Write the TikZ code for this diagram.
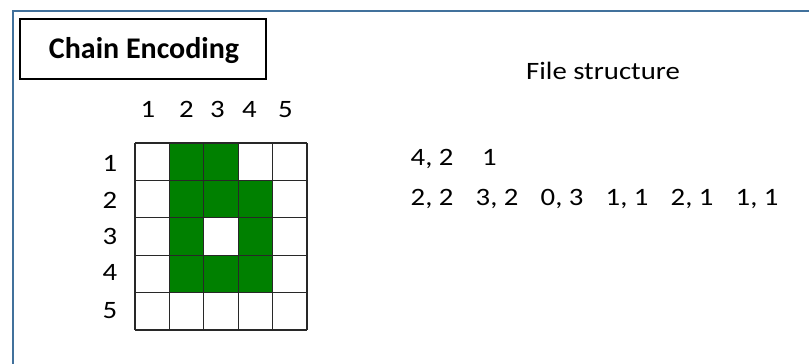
\documentclass[tikz,border=0pt]{standalone}
\usepackage{fontspec}
\setmainfont{Carlito}[FakeStretch=1.15]
\newfontfamily\titlefont{Carlito}
\definecolor{frameblue}{RGB}{65,113,156}
\definecolor{cellgreen}{RGB}{0,128,0}
\definecolor{gridline}{RGB}{40,40,40}
\tikzset{
  frameline/.style={draw=frameblue, line width=2.6pt},
  titlebox/.style={draw=black, line width=1.3pt},
  gridstyle/.style={draw=gridline, line width=1.3pt},
  lbl/.style={inner sep=0pt, anchor=base, font=\fontsize{25}{27}\selectfont},
  code/.style={inner sep=0pt, anchor=base west, font=\fontsize{25}{27}\selectfont},
}
\begin{document}
\begin{tikzpicture}[x=1pt,y=-1pt]
\useasboundingbox (0,0) rectangle (809,364);
\fill[white] (0,0) rectangle (809,364);
% outer frame
\draw[frameline] (13,364) -- (13,11) -- (809,11);
% title
\draw[titlebox] (20,19) rectangle (266,79);
\node[inner sep=0pt, anchor=base, font=\titlefont\fontsize{30}{32}\selectfont\bfseries] (title) at (144,58) {Chain Encoding};
% grid
\def\gx{135}\def\gy{143}\def\cw{34.4}\def\ch{37.4}
\foreach \c/\r in {2/1,3/1,2/2,3/2,4/2,2/3,4/3,2/4,3/4,4/4}{
  \fill[cellgreen] ({\gx+(\c-1)*\cw},{\gy+(\r-1)*\ch}) rectangle ++(\cw,\ch);
}
\foreach \i in {0,...,5}{
  \draw[gridstyle] ({\gx+\i*\cw},\gy) -- ({\gx+\i*\cw},{\gy+5*\ch});
  \draw[gridstyle] (\gx,{\gy+\i*\ch}) -- ({\gx+5*\cw},{\gy+\i*\ch});
}
% column labels
\node[lbl] (c1) at (148,117) {1};
\node[lbl] (c2) at (186.5,117) {2};
\node[lbl] (c3) at (217.5,117) {3};
\node[lbl] (c4) at (249.5,117) {4};
\node[lbl] (c5) at (285.5,117) {5};
% row labels
\node[lbl] (r1) at (110,171) {1};
\node[lbl] (r2) at (110,208) {2};
\node[lbl] (r3) at (110,244.5) {3};
\node[lbl] (r4) at (110,280) {4};
\node[lbl] (r5) at (110,318) {5};
% file structure
\node[lbl] (fs) at (603,79) {File structure};
\node[code] (h1) at (410.5,165) {4, 2};
\node[code] (h2) at (482,165) {1};
\node[code] (d1) at (410.5,205) {2, 2};
\node[code] (d2) at (475.5,205) {3, 2};
\node[code] (d3) at (540.5,205) {0, 3};
\node[code] (d4) at (605.5,205) {1, 1};
\node[code] (d5) at (670.5,205) {2, 1};
\node[code] (d6) at (735.5,205) {1, 1};
\end{tikzpicture}
\end{document}
